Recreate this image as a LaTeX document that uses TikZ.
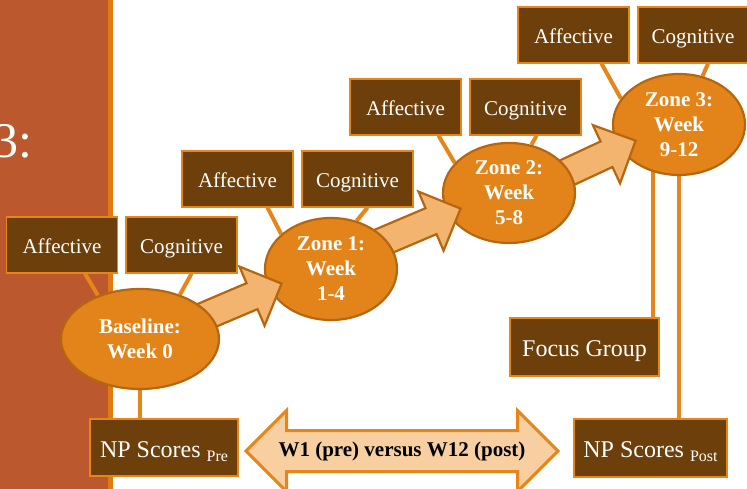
\documentclass[tikz,border=0pt]{standalone}
\usepackage{fontspec}
\setmainfont{Liberation Serif}
\usetikzlibrary{shapes.geometric,shapes.arrows,calc,backgrounds}
\definecolor{panelred}{HTML}{BC582E}
\definecolor{stripe}{HTML}{E07B14}
\definecolor{boxbrown}{HTML}{6D400B}
\definecolor{lineorange}{HTML}{E5851A}
\definecolor{zonefill}{HTML}{E3841A}
\definecolor{zoneedge}{HTML}{B5660F}
\definecolor{arrowfill}{HTML}{F2B46E}
\definecolor{peach}{HTML}{F8CFA0}

\begin{document}
\begin{tikzpicture}[x=1pt, y=-1pt,
	box/.style = {draw=lineorange, line width=1.2pt, fill=boxbrown, text=white, minimum width=111pt, minimum height=56pt, inner sep=0pt, text height=18pt, text depth=0pt, font=\fontsize{21}{25}\selectfont},
	zone/.style = {ellipse, draw=zoneedge, line width=2.2pt, fill=zonefill, text=white, inner sep=0pt, align=center, font=\fontsize{21}{25}\selectfont\bfseries},
	link/.style = {draw=lineorange, line width=4pt},
	fat/.style = {single arrow, draw=zoneedge, line width=2.2pt, fill=arrowfill, single arrow head extend=18pt, minimum height=110pt, inner xsep=0pt, inner ysep=13pt, anchor=tip}]
	\useasboundingbox (0,0) rectangle (747,489);
	
	% side panel
	\begin{scope}[on background layer]
		\fill[panelred] (0,0) rectangle (108,489);
		\fill[stripe] (108,0) rectangle (113,489);
	\end{scope}
	\node[anchor=base east, text=white, inner sep=0pt, font=\fontsize{50}{50}\selectfont] (title) at (33,158) {3:};
	
	% zones, drawn from the last one so each arrow sits under its source
	\node[zone, minimum width=132pt, minimum height=101pt] (z3) at (679,124.5) {Zone 3:\\Week\\9-12};
	\node[fat, rotate=25] (a3) at ($(z3.center)+(-42,15.5)$) {};
	\node[zone, minimum width=132pt, minimum height=100pt] (z2) at (509,193) {Zone 2:\\Week\\5-8};
	\node[fat, rotate=23] (a2) at ($(z2.center)+(-47,15)$) {};
	\node[zone, minimum width=132pt, minimum height=102pt] (z1) at (331,269) {Zone 1:\\Week\\1-4};
	\node[fat, rotate=23, minimum height=100pt] (a1) at ($(z1.center)+(-48,14)$) {};
	\node[zone, minimum width=158pt, minimum height=100pt] (base) at (140,339) {Baseline:\\Week 0};
	
	\node[box] (bAff) at (62,245) {Affective};
	\node[box] (bCog) at (181.5,245) {Cognitive};
	\node[box] (z1Aff) at (237.5,179) {Affective};
	\node[box] (z1Cog) at (357.5,179) {Cognitive};
	\node[box] (z2Aff) at (405.5,107) {Affective};
	\node[box] (z2Cog) at (525.5,107) {Cognitive};
	\node[box] (z3Aff) at (573.5,35) {Affective};
	\node[box, minimum width=110pt] (z3Cog) at (693,35) {Cognitive};
	
	\node[box, minimum width=148pt, minimum height=57pt, text height=19pt, font=\fontsize{24}{28}\selectfont] (npPre) at (164,447.5) {NP Scores {\fontsize{16}{16}\selectfont\raisebox{-4pt}[0pt][0pt]{Pre}}};
	\node[box, minimum width=153pt, minimum height=58pt, text height=19pt, font=\fontsize{24}{28}\selectfont] (npPost) at (650.5,448) {NP Scores {\fontsize{16}{16}\selectfont\raisebox{-4pt}[0pt][0pt]{Post}}};
	\node[box, minimum width=149pt, minimum height=58pt, text height=18pt, font=\fontsize{24}{28}\selectfont] (focus) at (584.5,347) {Focus Group};
	
	\node[double arrow, draw=lineorange, line width=3pt, fill=peach, double arrow head extend=20pt, minimum height=312pt, inner xsep=0pt, inner ysep=19pt,
		label={[font=\fontsize{21}{25}\selectfont\bfseries]center:W1 (pre) versus W12 (post)}] (cmp) at (402,451) {};
	
	\coordinate (z3left) at ($(z3.center)+(-26,0)$);
	\begin{scope}[on background layer]
		\draw[link] ($(bAff.south)+(23,0)$) -- (base.134);
		\draw[link] ($(bCog.south)+(10,0)$) -- (base.48);
		\draw[link] ($(z1Aff.south)+(30,0)$) -- (z1.145);
		\draw[link] ($(z1Cog.south)+(10,0)$) -- (z1.62);
		\draw[link] ($(z2Aff.south)+(33,0)$) -- (z2.151);
		\draw[link] ($(z2Cog.south)+(11,0)$) -- (z2.65);
		\draw[link] ($(z3Aff.south)+(28,0)$) -- (z3.156);
		\draw[link] ($(z3Cog.south)+(15,0)$) -- (z3.64);
		\draw[link] (base.south) -- (base.south |- npPre.north);
		\draw[link] (z3.south) -- (z3.south |- npPost.north);
		\draw[link] (z3left) -- (z3left |- focus.north);
	\end{scope}
\end{tikzpicture}
\end{document}
